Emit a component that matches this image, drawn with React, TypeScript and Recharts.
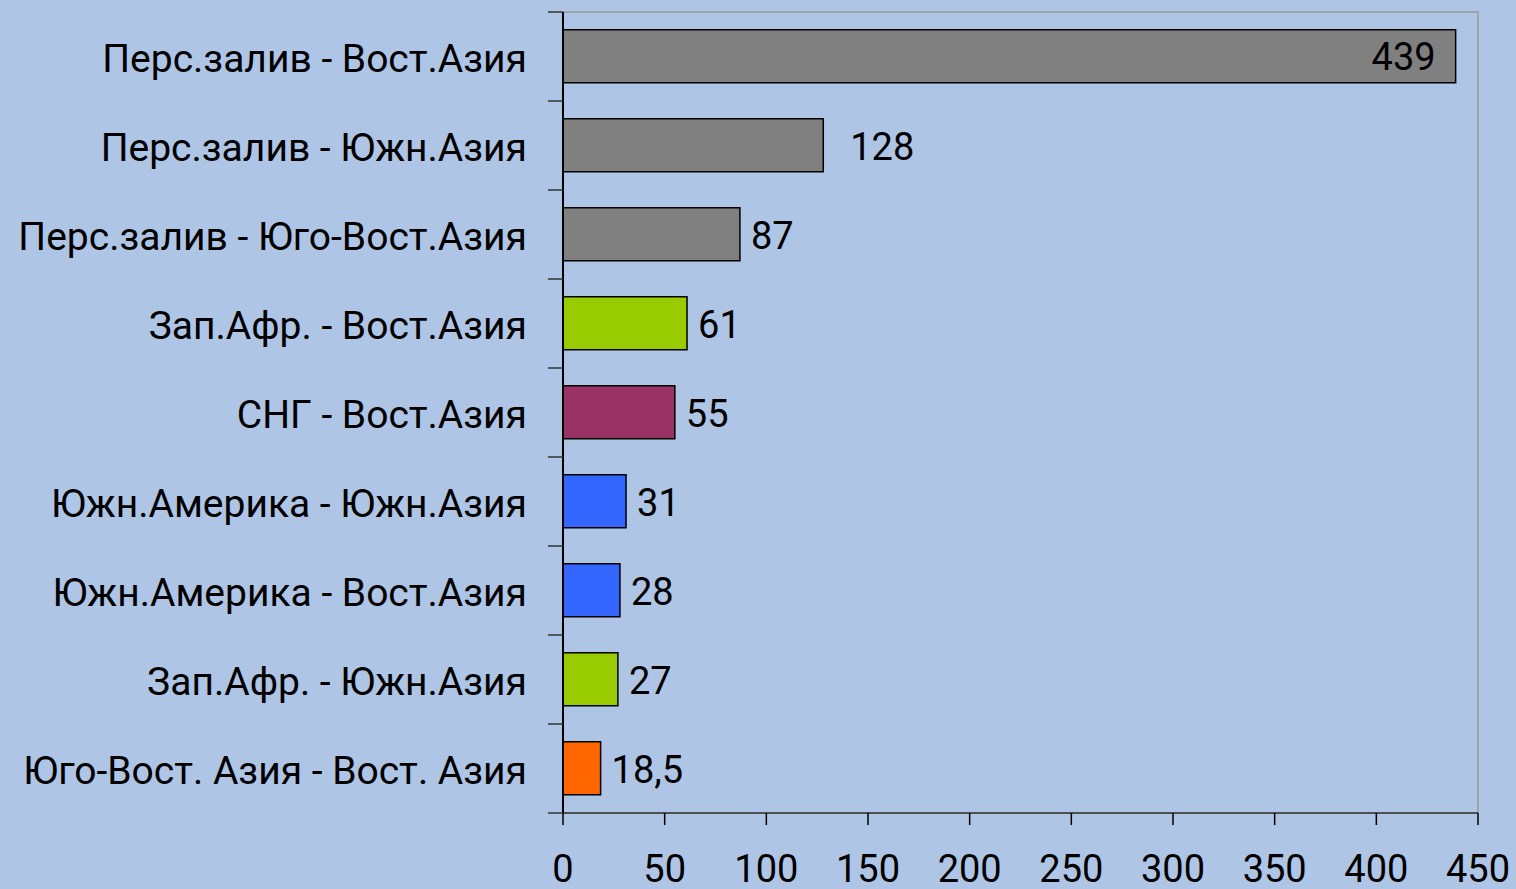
import React from 'react';
import { BarChart, Bar, XAxis, YAxis, Cell, LabelList, ReferenceArea } from 'recharts';

const routes = [
  'Перс.залив - Вост.Азия',
  'Перс.залив - Южн.Азия',
  'Перс.залив - Юго-Вост.Азия',
  'Зап.Афр. - Вост.Азия',
  'СНГ - Вост.Азия',
  'Южн.Америка - Южн.Азия',
  'Южн.Америка - Вост.Азия',
  'Зап.Афр. - Южн.Азия',
  'Юго-Вост. Азия - Вост. Азия',
];
const volumes = [439, 128, 87, 61, 55, 31, 28, 27, 18.5];
const volumeLabels = ['439', '128', '87', '61', '55', '31', '28', '27', '18,5'];
const barColors = ['#808080', '#808080', '#808080', '#99CC00', '#993366', '#3366FF', '#3366FF', '#99CC00', '#FF6600'];
const xTicks = [0, 50, 100, 150, 200, 250, 300, 350, 400, 450];

const data = routes.map((route, i) => ({ route, value: volumes[i], label: volumeLabels[i] }));

const FONT = 'Roboto, sans-serif';

// тики оси категорий рисуем на границах полос, как в Excel
const CategoryTick = (props: any) => {
  const { x, y, payload, index } = props;
  const half = 44.5;
  return (
    <g>
      <line x1={x + 21} x2={x + 36} y1={y - half} y2={y - half} stroke="#333" strokeWidth={1.5} />
      {index === routes.length - 1 && (
        <line x1={x + 21} x2={x + 36} y1={y + half} y2={y + half} stroke="#333" strokeWidth={1.5} />
      )}
      <text x={x} y={y + 5} textAnchor="end" dominantBaseline="middle" fontFamily={FONT} fontSize={39} fill="#000">
        {payload.value}
      </text>
    </g>
  );
};

const ValueLabel = (props: any) => {
  const { x, y, width, height, index } = props;
  const cy = y + height / 2 + 4;
  if (index === 0) {
    return (
      <text x={x + width - 20} y={cy} textAnchor="end" dominantBaseline="middle" fontFamily={FONT} fontSize={38} fill="#000">
        {volumeLabels[index]}
      </text>
    );
  }
  const off = index === 1 ? 27 : 11;
  return (
    <text x={x + width + off} y={cy + 1} textAnchor="start" dominantBaseline="middle" fontFamily={FONT} fontSize={38} fill="#000">
      {volumeLabels[index]}
    </text>
  );
};

export default function App() {
  return (
    <div style={{ position: 'fixed', left: 0, top: 0, width: 1516, height: 889, background: '#AFC5E5' }}>
      <BarChart
        width={1516}
        height={889}
        data={data}
        layout="vertical"
        margin={{ top: 12, right: 38, left: 0, bottom: 0 }}
        barCategoryGap="20%"
      >
        <ReferenceArea x1={0} x2={450} fill="none" stroke="#999" strokeWidth={1.5} ifOverflow="visible" />
        <XAxis
          type="number"
          domain={[0, 450]}
          ticks={xTicks}
          interval={0}
          height={76}
          axisLine={{ stroke: '#333', strokeWidth: 1.5 }}
          tickLine={{ stroke: '#000', strokeWidth: 1.5 }}
          tickSize={12}
          tickMargin={30}
          tick={{ fontFamily: FONT, fontSize: 38, fill: '#000' }}
        />
        <YAxis
          type="category"
          dataKey="route"
          width={563}
          interval={0}
          axisLine={{ stroke: '#000', strokeWidth: 2 }}
          tickLine={false}
          tickSize={15}
          tickMargin={21}
          tick={<CategoryTick />}
        />
        <Bar dataKey="value" stroke="#000" strokeWidth={1.5} isAnimationActive={false}>
          {data.map((d, i) => (
            <Cell key={d.route} fill={barColors[i]} />
          ))}
          <LabelList dataKey="label" content={<ValueLabel />} />
        </Bar>
      </BarChart>
    </div>
  );
}
